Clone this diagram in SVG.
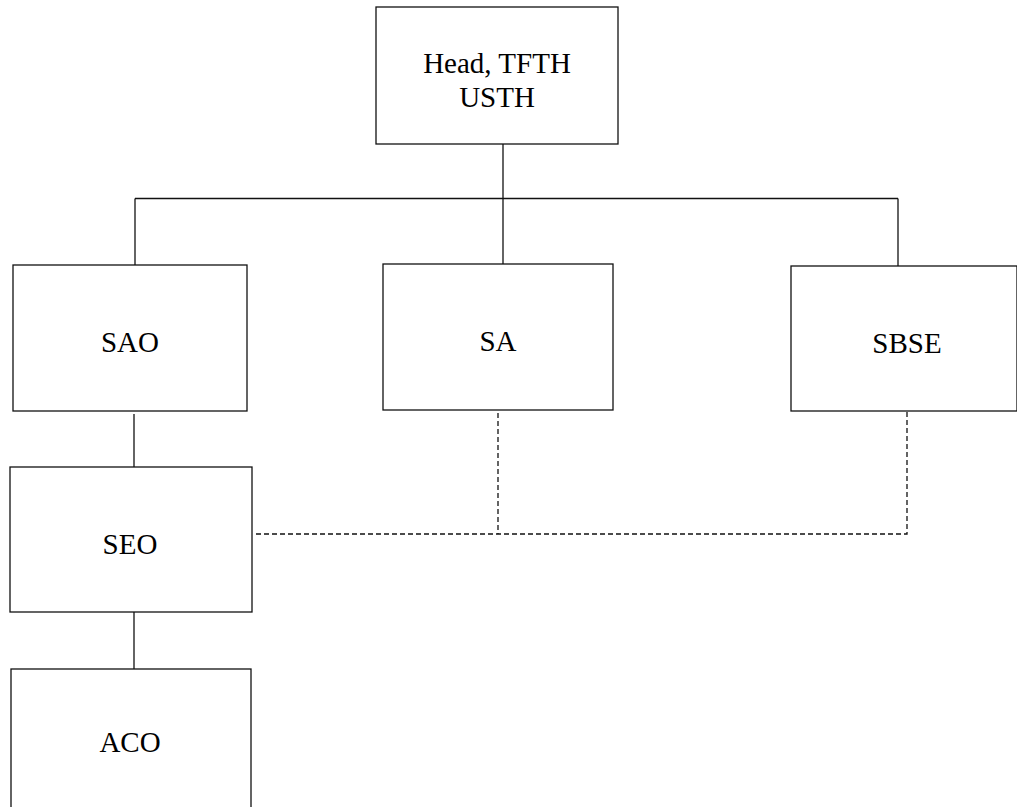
<svg xmlns="http://www.w3.org/2000/svg" width="1017" height="807" viewBox="0 0 1017 807">
<style>
.box{fill:#fff;stroke:#111;stroke-width:1.3}
.lbl{font-family:"Liberation Serif","Times New Roman",serif;font-size:29px;fill:#000;text-anchor:middle}
.solid{stroke:#111;stroke-width:1.3;fill:none}
.dash{stroke:#111;stroke-width:1.3;fill:none;stroke-dasharray:5,3}
</style>
<rect width="1017" height="807" fill="#fff"/>
<g id="connectors">
<path class="solid" d="M503,144 V264"/>
<path class="solid" d="M135,198.5 H898"/>
<path class="solid" d="M135,198.5 V265"/>
<path class="solid" d="M898,198.5 V266"/>
<path class="solid" d="M134,414 V467"/>
<path class="solid" d="M134,612 V669"/>
<path class="dash" d="M907,412 V534 H254"/>
<path class="dash" d="M498,413 V534"/>
</g>
<g id="head">
<rect class="box" x="376" y="7" width="242" height="137"/>
<text class="lbl" x="497" y="73">Head, TFTH</text>
<text class="lbl" x="497" y="107">USTH</text>
</g>
<g id="sao">
<rect class="box" x="13" y="265" width="234" height="146"/>
<text class="lbl" x="130" y="352">SAO</text>
</g>
<g id="sa">
<rect class="box" x="383" y="264" width="230" height="146"/>
<text class="lbl" x="498" y="351">SA</text>
</g>
<g id="sbse">
<rect class="box" x="791" y="266" width="226" height="145"/>
<text class="lbl" x="907" y="353">SBSE</text>
</g>
<g id="seo">
<rect class="box" x="10" y="467" width="242" height="145"/>
<text class="lbl" x="130" y="554">SEO</text>
</g>
<g id="aco">
<rect class="box" x="11" y="669" width="240" height="150"/>
<text class="lbl" x="130" y="752">ACO</text>
</g>
</svg>
